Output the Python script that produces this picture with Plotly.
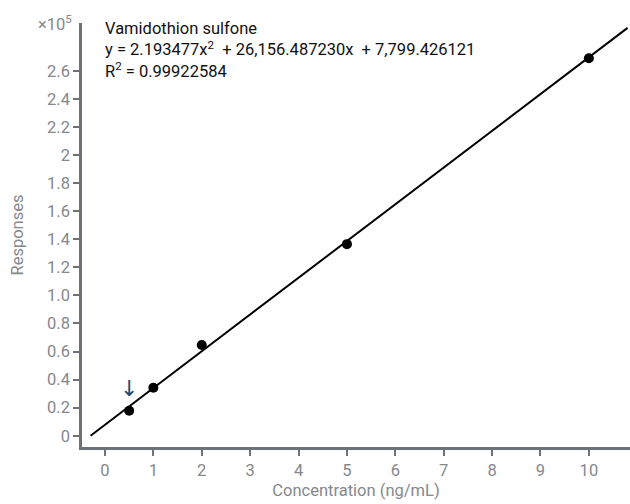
import numpy as np
import plotly.graph_objects as go

# Data
conc = [0.5, 1, 2, 5, 10]
responses = [17800, 34200, 64600, 136500, 268900]
coef_a, coef_b, coef_c = 2.193477, 26156.487230, 7799.426121
y_tickvals = [0, 0.2, 0.4, 0.6, 0.8, 1.0, 1.2, 1.4, 1.6, 1.8, 2.0, 2.2, 2.4, 2.6]
y_ticktext = ["0", "0.2", "0.4", "0.6", "0.8", "1.0", "1.2", "1.4", "1.6", "1.8", "2", "2.2", "2.4", "2.6"]
x_tickvals = list(range(0, 11))

scale = 1e5
gray = "#85888d"
axis_col = "#6e7176"
fam = "Roboto, Arial, sans-serif"
fs = 16.5

xf = np.linspace(-0.298, 10.8, 80)
yf = (coef_a * xf**2 + coef_b * xf + coef_c) / scale

fig = go.Figure()
fig.add_trace(go.Scatter(x=xf, y=yf, mode="lines", line=dict(color="#000000", width=2),
                         hoverinfo="skip", showlegend=False))
fig.add_trace(go.Scatter(x=conc, y=[r / scale for r in responses], mode="markers",
                         marker=dict(color="#000000", size=10), showlegend=False))

# arrow marking the lowest calibration point
fig.add_annotation(x=conc[0], y=0.262, xref="x", yref="y", text="↓", showarrow=False,
                   xanchor="center", yanchor="bottom", yshift=-4,
                   font=dict(family="DejaVu Sans", size=22, color="#1d4a72"))

txt_font = dict(family=fam, size=fs, color="#111111")
info_text = ("Vamidothion sulfone<br>"
             "y = 2.193477x<sup>2</sup>  + 26,156.487230x  + 7,799.426121<br>"
             "R<sup>2</sup> = 0.99922584")
fig.add_annotation(x=0, y=2.745, xref="x", yref="y", text=info_text, showarrow=False,
                   xanchor="left", yanchor="middle", align="left", font=txt_font, xshift=-2)

fig.add_annotation(x=0, y=1, xref="paper", yref="paper", text="×10<sup>5</sup>",
                   showarrow=False, xanchor="right", yanchor="middle", xshift=-8, yshift=0,
                   font=dict(family=fam, size=fs, color=gray))

fig.update_layout(
    width=630, height=504,
    margin=dict(l=82, r=0, t=23, b=57),
    plot_bgcolor="white", paper_bgcolor="white",
    font=dict(family=fam, size=fs, color=gray),
    xaxis=dict(range=[-0.475, 10.85], tickvals=x_tickvals, showgrid=False, zeroline=False,
               showline=True, linecolor=axis_col, linewidth=2.5, ticks="outside",
               ticklen=6, tickwidth=2, tickcolor=axis_col,
               tickfont=dict(size=fs, color=gray),
               title=dict(text="Concentration (ng/mL)", font=dict(size=fs, color=gray), standoff=6)),
    yaxis=dict(range=[-0.08, 2.94], tickvals=y_tickvals, ticktext=y_ticktext, showgrid=False,
               zeroline=False, showline=True, linecolor=axis_col, linewidth=2.5,
               ticks="outside", ticklen=6, tickwidth=2, tickcolor=axis_col,
               tickfont=dict(size=fs, color=gray),
               title=dict(text="Responses", font=dict(size=fs, color=gray), standoff=20)),
)

fig.write_html("out.html")
